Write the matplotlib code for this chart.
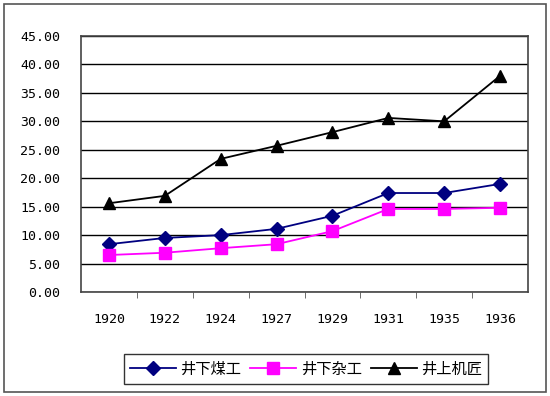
import matplotlib
matplotlib.use("Agg")
import matplotlib.pyplot as plt
from matplotlib.patches import Rectangle
from matplotlib.ticker import FixedLocator, NullFormatter

plt.rcParams['font.family'] = ['Noto Sans CJK SC', 'DejaVu Sans']

years = ['1920', '1922', '1924', '1927', '1929', '1931', '1935', '1936']
coal_under = [8.4, 9.5, 10.0, 11.1, 13.4, 17.4, 17.4, 19.0]
misc_under = [6.5, 6.9, 7.7, 8.4, 10.7, 14.6, 14.6, 14.8]
mech_above = [15.6, 16.9, 23.4, 25.7, 28.1, 30.6, 30.0, 38.0]
series_names = ['井下煤工', '井下杂工', '井上机匠']
y_ticks = [0, 5, 10, 15, 20, 25, 30, 35, 40, 45]

fig = plt.figure(figsize=(5.5, 3.96), dpi=100)
fig.patches.append(Rectangle((4/550, 1-392/396), 542/550, 388/396, transform=fig.transFigure,
                             fill=False, edgecolor='#555555', linewidth=1.2))

ax = fig.add_axes([81/550, 1-292/396, 447/550, 256/396])
x = list(range(len(years)))
ax.plot(x, coal_under, color='#000080', marker='D', markersize=7, linewidth=1.3, label=series_names[0])
ax.plot(x, misc_under, color='#FF00FF', marker='s', markersize=8, linewidth=1.3, label=series_names[1])
ax.plot(x, mech_above, color='black', marker='^', markersize=8.5, linewidth=1.3, label=series_names[2])

ax.set_xlim(-0.5, len(years) - 0.5)
ax.set_ylim(0, 45)
ax.set_yticks(y_ticks)
ax.set_yticklabels([f'{v:.2f}' for v in y_ticks], fontsize=9.5, family=['DejaVu Sans Mono'])
ax.tick_params(axis='y', length=0, pad=15)
ax.set_xticks(x)
ax.set_xticklabels(years, fontsize=9.5, family=['DejaVu Sans Mono'])
ax.tick_params(axis='x', which='major', length=0, pad=15)
ax.xaxis.set_minor_locator(FixedLocator([i + 0.5 for i in range(len(years) - 1)]))
ax.xaxis.set_minor_formatter(NullFormatter())
ax.tick_params(axis='x', which='minor', length=4, direction='out', color='#555555')
ax.yaxis.grid(True, color='black', linewidth=1.0)
ax.set_axisbelow(True)
for s in ax.spines.values():
    s.set_color('#444444')
    s.set_linewidth(1.2)

leg = fig.legend(loc='center', bbox_to_anchor=(306/550, 1-369/396), ncol=3, frameon=True,
                 fancybox=False, edgecolor='black', fontsize=11, handlelength=3.0,
                 columnspacing=0.6, handletextpad=0.3, borderpad=0.4, borderaxespad=0)
leg.get_frame().set_linewidth(1.0)

fig.savefig('out.png', dpi=100)
